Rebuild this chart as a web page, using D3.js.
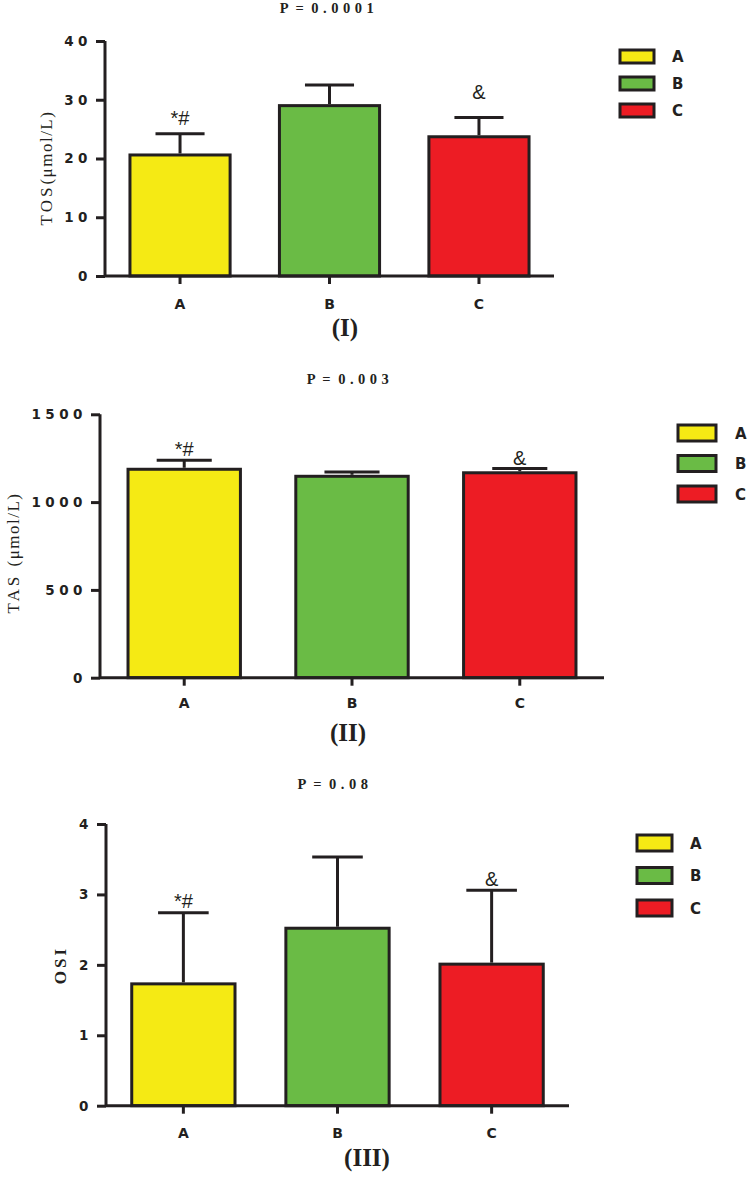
<!DOCTYPE html>
<html>
<head>
<meta charset="utf-8">
<script src="https://cdn.jsdelivr.net/npm/d3@7"></script>
<style>
  html, body { margin: 0; padding: 0; background: #fff; }
  svg { display: block; }
</style>
</head>
<body>
<svg id="chart" width="752" height="1180"></svg>
<script>
// ---------------- data ----------------
const categories = ["A", "B", "C"];

const tosMeans = [20.6, 29.0, 23.7];
const tosErr   = [3.6, 3.5, 3.3];
const tosTicks = [0, 10, 20, 30, 40];

const tasMeans = [1187, 1147, 1167];
const tasErr   = [51, 24, 25];
const tasTicks = [0, 500, 1000, 1500];

const osiMeans = [1.73, 2.52, 2.01];
const osiErr   = [1.01, 1.01, 1.05];
const osiTicks = [0, 1, 2, 3, 4];

const annotations = ["*#", "", "&"];
const pTitles = ["P = 0.0001", "P = 0.003", "P = 0.08"];
const panelNames = ["(I)", "(II)", "(III)"];

// ---------------- style ----------------
const fills = ["#f5ea14", "#6abb45", "#ed1c24"];
const ink = "#231f20";
const sansBold = "'DejaVu Sans', 'Liberation Sans', Arial, sans-serif";
const serif = "'Liberation Serif', 'Times New Roman', serif";

const svg = d3.select("#chart");
svg.append("rect").attr("width", 752).attr("height", 1180).attr("fill", "#fff");

const panels = [
  { means: tosMeans, errs: tosErr, ticks: tosTicks, domain: [0, 40],
    x0: 105, x1: 554, yB: 276, yT: 41,
    title: pTitles[0], titleX: 329, titleY: 13,
    lab1: "TOS", lab2: "(μmol/L)", labX: 52, labY: 168, labBold: false,
    name: panelNames[0], nameX: 345, nameY: 336,
    legX: 620, legY: 50, swW: 34, swH: 13, legStep: 27, legLabX: 672,
    annOff: [-9, 0, -18], xLabOff: 33 },
  { means: tasMeans, errs: tasErr, ticks: tasTicks, domain: [0, 1500],
    x0: 100, x1: 604, yB: 677.7, yT: 414.3,
    title: pTitles[1], titleX: 350, titleY: 384,
    lab1: "TAS ", lab2: "(μmol/L)", labX: 19, labY: 553, labBold: false,
    name: panelNames[1], nameX: 348, nameY: 741,
    legX: 678, legY: 425, swW: 38, swH: 16, legStep: 30.5, legLabX: 735,
    annOff: [-4, 0, -3], xLabOff: 30 },
  { means: osiMeans, errs: osiErr, ticks: osiTicks, domain: [0, 4],
    x0: 106, x1: 569, yB: 1105.7, yT: 824,
    title: pTitles[2], titleX: 335, titleY: 789,
    lab1: "OSI", lab2: "", labX: 66, labY: 965, labBold: true,
    name: panelNames[2], nameX: 367, nameY: 1166,
    legX: 637, legY: 835, swW: 35, swH: 16, legStep: 32.5, legLabX: 690,
    annOff: [-5, 0, -4], xLabOff: 32 }
];

panels.forEach(p => {
  const g = svg.append("g");
  const x = d3.scaleBand().domain(categories).range([p.x0, p.x1])
    .paddingInner(0.33).paddingOuter(0.167);
  const y = d3.scaleLinear().domain(p.domain).range([p.yB, p.yT]);

  // bars
  g.selectAll("rect.bar").data(categories).join("rect")
    .attr("x", d => x(d))
    .attr("y", (d, i) => y(p.means[i]))
    .attr("width", x.bandwidth())
    .attr("height", (d, i) => y(0) - y(p.means[i]))
    .attr("fill", (d, i) => fills[i])
    .attr("stroke", ink).attr("stroke-width", 3);

  // error bars (upper)
  const capW = x.bandwidth() * 0.49;
  categories.forEach((c, i) => {
    const cx = x(c) + x.bandwidth() / 2;
    const top = y(p.means[i] + p.errs[i]);
    g.append("line").attr("x1", cx).attr("x2", cx)
      .attr("y1", y(p.means[i]) - 1.5).attr("y2", top)
      .attr("stroke", ink).attr("stroke-width", 3);
    g.append("line").attr("x1", cx - capW / 2).attr("x2", cx + capW / 2)
      .attr("y1", top).attr("y2", top)
      .attr("stroke", ink).attr("stroke-width", 3);
    if (annotations[i]) {
      g.append("text").attr("x", cx).attr("y", top + p.annOff[i])
        .attr("text-anchor", "middle")
        .attr("font-family", "'Liberation Sans', Arial, sans-serif")
        .attr("font-size", 20).attr("fill", ink)
        .text(annotations[i]);
    }
  });

  // y axis
  const yAxis = d3.axisLeft(y).tickValues(p.ticks).tickSize(9).tickPadding(4)
    .tickFormat(d3.format("d"));
  const ya = g.append("g").attr("transform", `translate(${p.x0},0)`).call(yAxis);
  ya.select(".domain").attr("stroke", ink).attr("stroke-width", 3)
    .attr("d", `M0,${p.yT}V${p.yB}`);
  ya.selectAll(".tick line").attr("stroke", ink).attr("stroke-width", 3);
  ya.selectAll(".tick text").attr("font-family", sansBold).attr("font-weight", "bold")
    .attr("font-size", 13.5).attr("letter-spacing", "4.5px").attr("fill", ink)
    .attr("dx", "0px");

  // x axis
  const xAxis = d3.axisBottom(x).tickSize(8).tickPadding(0);
  const xa = g.append("g").attr("transform", `translate(0,${p.yB})`).call(xAxis);
  xa.select(".domain").attr("stroke", ink).attr("stroke-width", 3)
    .attr("d", `M${p.x0},0H${p.x1}`);
  xa.selectAll(".tick line").attr("stroke", ink).attr("stroke-width", 3);
  xa.selectAll(".tick text").attr("font-family", sansBold).attr("font-weight", "bold")
    .attr("font-size", 14).attr("fill", ink)
    .attr("dy", null).attr("y", p.xLabOff);

  // title
  g.append("text").attr("x", p.titleX).attr("y", p.titleY).attr("text-anchor", "middle")
    .attr("font-family", serif).attr("font-weight", "bold").attr("font-size", 14.5)
    .attr("letter-spacing", "4.5px").attr("word-spacing", "-5px")
    .attr("fill", ink).text(p.title);

  // panel name
  g.append("text").attr("x", p.nameX).attr("y", p.nameY).attr("text-anchor", "middle")
    .attr("font-family", serif).attr("font-weight", "bold").attr("font-size", 25)
    .attr("fill", ink).text(p.name);

  // y label
  const yl = g.append("text")
    .attr("transform", `translate(${p.labX},${p.labY}) rotate(-90)`)
    .attr("text-anchor", "middle").attr("font-family", serif).attr("fill", ink)
    .attr("font-size", 17).attr("font-weight", p.labBold ? "bold" : "normal");
  yl.append("tspan").attr("letter-spacing", "3px").text(p.lab1);
  if (p.lab2) {
    yl.append("tspan").attr("letter-spacing", "1.5px").text(p.lab2);
  }

  // legend
  const lg = g.append("g");
  categories.forEach((c, i) => {
    const ly = p.legY + i * p.legStep;
    lg.append("rect").attr("x", p.legX).attr("y", ly)
      .attr("width", p.swW).attr("height", p.swH)
      .attr("fill", fills[i]).attr("stroke", ink).attr("stroke-width", 3);
    lg.append("text").attr("x", p.legLabX).attr("y", ly + p.swH / 2 + 5.5)
      .attr("font-family", sansBold).attr("font-weight", "bold").attr("font-size", 15)
      .attr("fill", ink).text(c);
  });
});
</script>
</body>
</html>
